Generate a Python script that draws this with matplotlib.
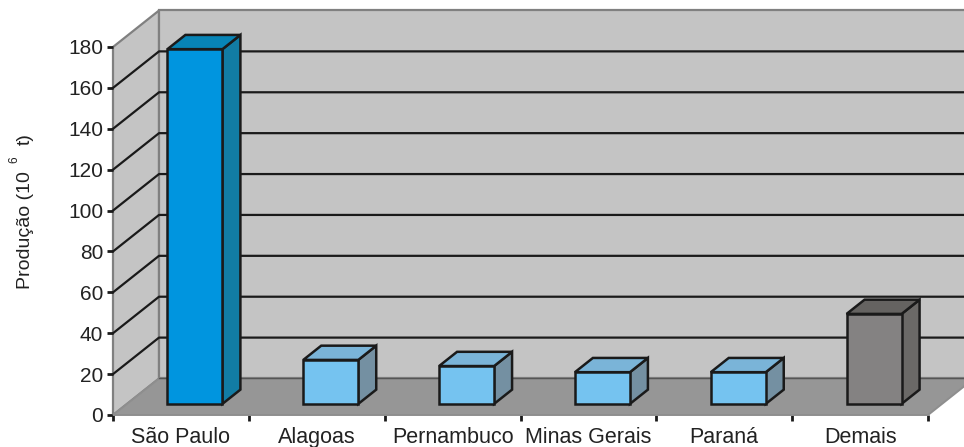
import numpy as np
import matplotlib
matplotlib.use("Agg")
from matplotlib import pyplot as plt
from matplotlib.patches import Polygon

plt.rcParams["font.family"] = ["Liberation Sans", "DejaVu Sans"]

estados = ["São Paulo", "Alagoas", "Pernambuco", "Minas Gerais", "Paraná", "Demais"]
producao = [173.5, 21.5, 18.5, 15.5, 15.5, 44]
yticks = [0, 20, 40, 60, 80, 100, 120, 140, 160, 180]

# front, top and side colours of each bar
cor_frente = ["#0095df", "#75c3f0", "#75c3f0", "#75c3f0", "#75c3f0", "#848282"]
cor_topo = ["#0784b6", "#7ab4d8", "#7ab4d8", "#7ab4d8", "#7ab4d8", "#656361"]
cor_lado = ["#127ca4", "#7490a2", "#7490a2", "#7490a2", "#7490a2", "#6b6967"]

# fake 3d: depth of the box in axis units
DX = 46 / 135.8
DY = 36.5 / 2.044
LARGURA = 0.405
RECUO = 0.305  # how far back the bars stand on the floor
PROF = 0.39    # bar depth as fraction of the floor depth
LINHA = "#1a1a1a"
TEXTO = "#222222"

fig = plt.figure(figsize=(9.64, 4.47), dpi=100)
ax = fig.add_axes([113 / 964, 1 - 415 / 447, (928 - 113) / 964, (415 - 47) / 447])
ax.set_xlim(0, 6)
ax.set_ylim(0, 180)
for s in ax.spines.values():
    s.set_visible(False)
ax.patch.set_visible(False)


def poly(pts, cor, borda, lw, z):
    ax.add_patch(Polygon(pts, closed=True, facecolor=cor, edgecolor=borda, linewidth=lw,
                         zorder=z, clip_on=False, joinstyle="miter"))


# walls and floor
xd = 6 + DX
poly([(0, 0), (DX, DY), (DX, 180 + DY), (0, 180)], "#c4c4c4", "#808080", 1.6, 1)
poly([(DX, DY), (xd, DY), (xd, 180 + DY), (DX, 180 + DY)], "#c4c4c4", "#808080", 1.6, 1)
poly([(0, 0), (DX, DY), (xd, DY), (6, 0)], "#969696", "#8e8e8e", 1.4, 2)
ax.plot([DX, xd], [DY, DY], color="#555555", lw=1, zorder=2, clip_on=False)

# grid on both walls
for v in yticks[1:-1]:
    ax.plot([0, DX, xd], [v, v + DY, v + DY], color=LINHA, lw=1.6, zorder=3, clip_on=False)

# bars
for i, v in enumerate(producao):
    x0 = i + 0.5 - LARGURA / 2 + RECUO * DX
    x1 = x0 + LARGURA
    b = RECUO * DY
    t = b + v
    ox = PROF * DX
    oy = PROF * DY
    z = 5 + i
    poly([(x1, b), (x1 + ox, b + oy), (x1 + ox, t + oy), (x1, t)], cor_lado[i], LINHA, 1.8, z)
    poly([(x0, t), (x1, t), (x1 + ox, t + oy), (x0 + ox, t + oy)], cor_topo[i], LINHA, 1.8, z)
    poly([(x0, b), (x1, b), (x1, t), (x0, t)], cor_frente[i], LINHA, 1.8, z)

# axes ticks
ax.set_yticks(yticks)
ax.tick_params(axis="y", length=4, width=2, color=LINHA, labelsize=15, labelcolor=TEXTO, pad=3)
ax.set_xticks(np.arange(0, 7))
ax.set_xticklabels([])
ax.tick_params(axis="x", which="major", length=4.5, width=2, color=LINHA)
ax.set_xticks(np.arange(6) + 0.5, minor=True)
ax.set_xticklabels(estados, minor=True)
ax.tick_params(axis="x", which="minor", length=0, labelsize=15.5, labelcolor=TEXTO, pad=8.5)

# axis title, with the exponent set apart
fig.text(25 / 964, 1 - 289 / 447, "Produção (10", rotation=90, fontsize=14, color=TEXTO,
         ha="center", va="bottom")
fig.text(25 / 964, 1 - 133 / 447, "t)", rotation=90, fontsize=14, color=TEXTO,
         ha="center", va="top")
fig.text(14 / 964, 1 - 160 / 447, "6", rotation=90, fontsize=8.5, color=TEXTO,
         ha="center", va="center")

fig.savefig("out.png", dpi=100)
